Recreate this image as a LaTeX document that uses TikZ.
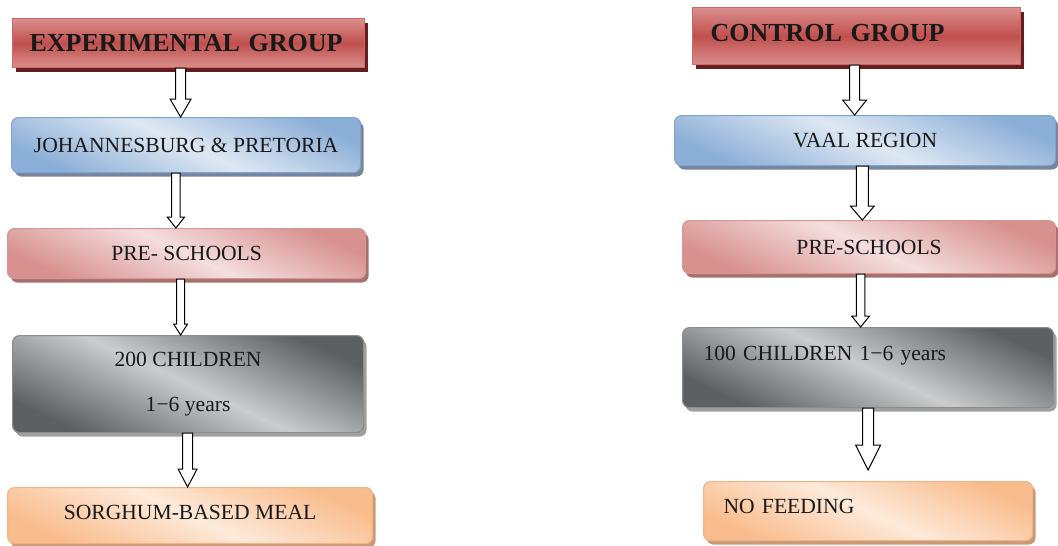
\documentclass[tikz,border=0pt]{standalone}
\usepackage{fontspec}
\setmainfont{Liberation Serif}
\usetikzlibrary{calc,shadows}

% palette
\definecolor{hdrDark}{RGB}{192,80,77}
\definecolor{hdrLight}{RGB}{218,142,140}
\definecolor{hdrEdge}{RGB}{206,104,101}
\definecolor{hdrShadow}{RGB}{100,30,32}
\definecolor{bluDark}{RGB}{140,175,215}
\definecolor{bluLight}{RGB}{222,232,243}
\definecolor{bluEdge}{RGB}{125,165,210}
\definecolor{bluShadow}{RGB}{120,132,155}
\definecolor{pnkDark}{RGB}{215,145,143}
\definecolor{pnkLight}{RGB}{244,222,222}
\definecolor{pnkEdge}{RGB}{215,150,148}
\definecolor{pnkShadow}{RGB}{165,112,110}
\definecolor{gryDark}{RGB}{92,96,99}
\definecolor{gryLight}{RGB}{202,204,205}
\definecolor{gryEdge}{RGB}{140,140,140}
\definecolor{gryShadow}{RGB}{160,160,160}
\definecolor{orgDark}{RGB}{249,188,140}
\definecolor{orgLight}{RGB}{253,234,218}
\definecolor{orgEdge}{RGB}{245,178,128}
\definecolor{orgShadow}{RGB}{200,155,120}
\definecolor{ink}{RGB}{25,25,25}

\tikzset{
  stage/.style={anchor=north west, inner ysep=0pt, inner xsep=0pt,
    rounded corners=7pt, line width=1.2pt, text=ink,
    font=\fontsize{21.6}{25}\selectfont, align=center},
  sheen/.style 2 args={top color=#1, bottom color=#1, middle color=#2,
    shading angle=-25},
  shadowed/.style={drop shadow={shadow xshift=3pt, shadow yshift=-4pt,
    fill=#1, opacity=1}},
  bluebox/.style={stage, draw=bluEdge, sheen={bluDark}{bluLight}, shadowed=bluShadow},
  pinkbox/.style={stage, draw=pnkEdge, sheen={pnkDark}{pnkLight}, shadowed=pnkShadow},
  graybox/.style={stage, draw=gryEdge, sheen={gryDark}{gryLight}, shadowed=gryShadow},
  orangebox/.style={stage, draw=orgEdge, sheen={orgDark}{orgLight}, shadowed=orgShadow},
  headbox/.style={anchor=north west, inner ysep=0pt, inner xsep=17pt,
    line width=1.2pt, draw=hdrEdge, top color=hdrLight, bottom color=hdrLight,
    middle color=hdrDark, shadowed=hdrShadow, text=ink,
    font=\bfseries\fontsize{26}{30}\selectfont, align=left},
  hollow/.style={draw=black, fill=white, line width=1pt, line join=miter}
}

% hollow block arrow: #1 start (top), #2 tip, #3 half shaft width,
% #4 half head width, #5 head length
\newcommand{\blockarrow}[5]{%
  \draw[hollow] let \p1=#1, \p2=#2 in
    (\x2-#3,\y1) -- (\x2-#3,\y2+#5) -- (\x2-#4,\y2+#5) -- (\x2,\y2)
    -- (\x2+#4,\y2+#5) -- (\x2+#3,\y2+#5) -- (\x2+#3,\y1) -- cycle;}

\begin{document}
\begin{tikzpicture}[x=1pt, y=-1pt]
  \useasboundingbox (0,0) rectangle (1058,546);
  \clip (0,0) rectangle (1058,546);

  % experimental arm
  \node[headbox, minimum width=352pt, minimum height=49pt, text width=318pt]
    (expg) at (12,18) {EXPERIMENTAL GROUP};
  \node[bluebox, minimum width=349pt, minimum height=55pt]
    (jhb) at (11,117) {JOHANNESBURG \& PRETORIA};
  \node[pinkbox, minimum width=358pt, minimum height=50pt]
    (preA) at (7,228) {PRE- SCHOOLS};
  \node[graybox, minimum width=351pt, minimum height=97pt]
    (kidsA) at (12,335) {200 CHILDREN\\[20pt]1−6 years};
  \node[orangebox, minimum width=365pt, minimum height=56pt,
    text height=32pt, text depth=24pt]
    (meal) at (7,487) {SORGHUM-BASED MEAL};

  % control arm
  \node[headbox, minimum width=328pt, minimum height=57pt, inner xsep=18pt,
    text width=292pt, text height=34pt, text depth=23pt]
    (ctrl) at (692,7) {CONTROL GROUP};
  \node[bluebox, minimum width=381pt, minimum height=50pt]
    (vaal) at (674,115) {VAAL REGION};
  \node[pinkbox, minimum width=373pt, minimum height=53pt]
    (preB) at (682,220) {PRE-SCHOOLS};
  \node[graybox, minimum width=371pt, minimum height=80pt, align=left,
    inner xsep=21pt, text width=329pt, text height=33pt, text depth=47pt]
    (kidsB) at (682,327) {100 CHILDREN 1−6 years};
  \node[orangebox, minimum width=329pt, minimum height=59pt, align=left,
    inner xsep=20pt, text width=289pt, text height=32pt, text depth=27pt]
    (nofeed) at (703,481) {NO FEEDING};

  % flow arrows, experimental arm
  \blockarrow{(expg.south)}{([xshift=-5.5pt]jhb.north)}{5pt}{10.5pt}{18pt}
  \blockarrow{(jhb.south)}{([xshift=-10.7pt]preA.north)}{4.3pt}{8.7pt}{11pt}
  \blockarrow{(preA.south)}{([xshift=-7.5pt]kidsA.north)}{4pt}{7pt}{11pt}
  \blockarrow{(kidsA.south)}{([xshift=-2.5pt]meal.north)}{5pt}{9.5pt}{18pt}

  % flow arrows, control arm
  \blockarrow{(ctrl.south)}{([xshift=-10.5pt]vaal.north)}{5pt}{12pt}{15pt}
  \blockarrow{(vaal.south)}{([xshift=-6.8pt]preB.north)}{6pt}{12pt}{14pt}
  \blockarrow{(preB.south)}{([xshift=-7.5pt]kidsB.north)}{4.3pt}{9pt}{11pt}
  \blockarrow{(kidsB.south)}{([yshift=11pt]nofeed.north)}{5.5pt}{12.5pt}{25pt}
\end{tikzpicture}
\end{document}
